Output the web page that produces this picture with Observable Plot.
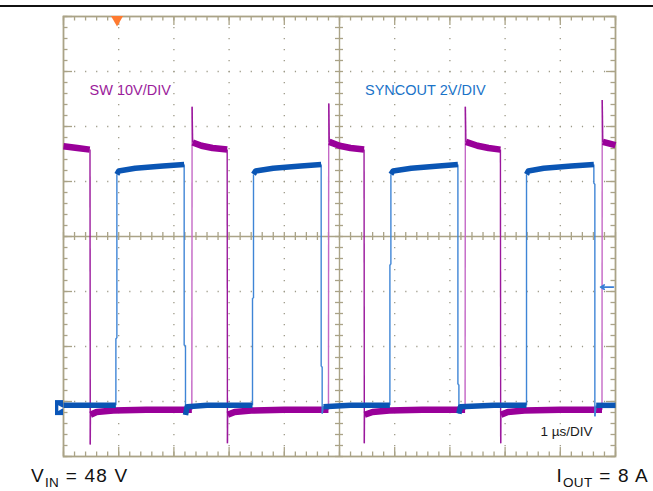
<!DOCTYPE html>
<html><head><meta charset="utf-8">
<script src="https://cdn.jsdelivr.net/npm/d3@7"></script>
<script src="https://cdn.jsdelivr.net/npm/@observablehq/plot@0.6"></script>
<style>
body{margin:0;background:#fff;font-family:"Liberation Sans",Arial,sans-serif;}
#wrap{position:relative;width:653px;height:491px;overflow:hidden;background:#fff;}
#chart{position:absolute;left:0;top:0;}
#topline{position:absolute;left:0;top:5px;width:653px;height:1.6px;background:#111;z-index:2;}
.foot{position:absolute;top:466px;font-size:19px;line-height:20px;color:#111;white-space:nowrap;letter-spacing:1.2px;}
.foot sub{font-size:13.5px;vertical-align:-5px;line-height:0;letter-spacing:0.4px;}
</style></head><body>
<div id="wrap"><div id="chart"></div><div id="topline"></div>
<div class="foot" style="left:31px">V<sub>IN</sub> = 48 V</div>
<div class="foot" style="right:4px">I<sub>OUT</sub> = 8 A</div>
</div>
<script>
// ---- data (time in µs, voltage in V) ----
const swLabel = "SW 10V/DIV";
const syncLabel = "SYNCOUT 2V/DIV";
const timeLabel = "1 µs/DIV";
const swVoltsPerDiv = 10;
const syncVoltsPerDiv = 2;
const groundDiv = -3.12;        // both channels' ground marker (divisions from centre)
const triggerTime = 0.97;       // µs
const triggerLevel = 4.4;       // V on SYNCOUT

const swTime = [0, 0.25, 0.475, 0.48, 0.485, 0.49, 0.6, 0.9, 1.5, 2.325, 2.33, 2.34, 2.5, 2.7, 2.965, 2.97, 2.975, 3.1, 3.4, 4.0, 4.80, 4.805, 4.815, 5.0, 5.2, 5.445, 5.45, 5.455, 5.6, 5.9, 6.5, 7.275, 7.28, 7.29, 7.5, 7.7, 7.915, 7.92, 7.925, 8.05, 8.35, 9.0, 9.755, 9.76, 9.77, 10];
const swVolt = [47.6, 47.3, 47.0, 47.0, -6.6, -1.2, -0.7, -0.45, -0.3, -0.3, 54.8, 48.3, 47.7, 47.3, 47.0, -6.4, -1.2, -0.7, -0.45, -0.3, -0.3, 55.4, 48.4, 47.7, 47.3, 47.0, -6.4, -1.2, -0.7, -0.45, -0.3, -0.3, 54.8, 48.4, 47.7, 47.3, 47.0, -6.4, -1.2, -0.7, -0.45, -0.3, -0.3, 56.0, 48.4, 47.8];

const syncTime = [0, 0.5, 0.949, 0.949, 0.967, 0.967, 1.0, 1.3, 1.8, 2.186, 2.186, 2.21, 2.21, 2.24, 2.6, 3.424, 3.424, 3.442, 3.442, 3.48, 3.8, 4.3, 4.668, 4.668, 4.686, 4.686, 4.71, 5.2, 5.913, 5.913, 5.931, 5.931, 5.97, 6.3, 6.8, 7.145, 7.145, 7.163, 7.163, 7.19, 7.8, 8.388, 8.388, 8.42, 8.7, 9.2, 9.608, 9.608, 9.626, 9.626, 9.65, 10];
const syncVolt = [0.1, 0.1, 0.1, 2.54, 2.54, 8.5, 8.62, 8.72, 8.8, 8.86, 2.28, 2.28, -0.25, 0.05, 0.1, 0.1, 4.0, 4.0, 8.5, 8.62, 8.72, 8.8, 8.86, 1.51, 1.51, -0.2, 0.05, 0.1, 0.1, 5.22, 5.22, 8.5, 8.62, 8.72, 8.8, 8.86, 0.86, 0.86, -0.2, 0.05, 0.1, 0.1, 8.5, 8.62, 8.72, 8.8, 8.86, 8.16, 8.16, -0.3, 0.1, 0.1];

// ---- layout ----
const W = 653, H = 491, mL = 63, mR = 38, mT = 16, mB = 35;
const pxX = (W - mL - mR) / 10, pxY = (H - mT - mB) / 8;
const gridColor = "#aaa387";

const toDiv = (v, s) => groundDiv + v / s;
const sw = swTime.map((t, i) => ({t, y: toDiv(swVolt[i], swVoltsPerDiv)}));
const sync = syncTime.map((t, i) => ({t, y: toDiv(syncVolt[i], syncVoltsPerDiv)}));
function bands(pts) { let seg = 0; return pts.map((p, i) => { if (i > 0 && Math.abs(p.t - pts[i-1].t) < 0.025) seg++; return {...p, seg}; }); }
function edges(pts) { const out = []; for (let i = 1; i < pts.length; i++) { if (Math.abs(pts[i].t - pts[i-1].t) < 0.025) out.push({t1: pts[i-1].t, y1: pts[i-1].y, t2: pts[i].t, y2: pts[i].y, rise: pts[i].y > pts[i-1].y}); } return out; }

const xMinor = d3.range(0, 50.5).map(i => i * 0.2);
const yMinor = d3.range(0, 40.5).map(i => -4 + i * 0.2);
const xMajor = d3.range(0, 11), yMajor = d3.range(-4, 5);
const xGrid = xMajor.filter(d => d > 0 && d < 10 && d !== 5);
const yGrid = yMajor.filter(d => d > -4 && d < 4 && d !== 0);
const tx = 4 / pxX, ty = 4 / pxY, exMin = 4.5, exMaj = 9;

const swEdges = edges(sw), syncEdges = edges(sync);

const chart = Plot.plot({
  width: W, height: H, marginLeft: mL, marginRight: mR, marginTop: mT, marginBottom: mB,
  x: {domain: [0, 10], axis: null},
  y: {domain: [-4, 4], axis: null},
  style: {fontFamily: "'Liberation Sans', Arial, sans-serif", background: "#fff"},
  marks: [
    // dotted grid
    Plot.ruleX(xGrid, {stroke: "#9d9a88", strokeWidth: 1.3, strokeDasharray: "1.2,9.8"}),
    Plot.ruleY(yGrid, {stroke: "#9d9a88", strokeWidth: 1.3, strokeDasharray: "1.2,9.84"}),
    // centre crosshair
    Plot.ruleX([5], {stroke: gridColor, strokeWidth: 1.4}),
    Plot.ruleY([0], {stroke: gridColor, strokeWidth: 1.4}),
    Plot.ruleY(yMinor, {x1: 5 - tx, x2: 5 + tx, stroke: gridColor, strokeWidth: 1.3}),
    Plot.ruleX(xMinor, {y1: -ty, y2: ty, stroke: gridColor, strokeWidth: 1.3}),
    // edge ticks
    Plot.ruleY(yMinor, {x1: 0, x2: exMin / pxX, stroke: gridColor, strokeWidth: 1.3}),
    Plot.ruleY(yMinor, {x1: 10 - exMin / pxX, x2: 10, stroke: gridColor, strokeWidth: 1.3}),
    Plot.ruleX(xMinor, {y1: 4 - exMin / pxY, y2: 4, stroke: gridColor, strokeWidth: 1.3}),
    Plot.ruleX(xMinor, {y1: -4, y2: -4 + exMin / pxY, stroke: gridColor, strokeWidth: 1.3}),
    Plot.ruleY(yMajor, {x1: 0, x2: exMaj / pxX, stroke: gridColor, strokeWidth: 1.3}),
    Plot.ruleY(yMajor, {x1: 10 - exMaj / pxX, x2: 10, stroke: gridColor, strokeWidth: 1.3}),
    Plot.ruleX(xMajor, {y1: 4 - exMaj / pxY, y2: 4, stroke: gridColor, strokeWidth: 1.3}),
    Plot.ruleX(xMajor, {y1: -4, y2: -4 + exMaj / pxY, stroke: gridColor, strokeWidth: 1.3}),
    Plot.frame({stroke: gridColor, strokeWidth: 1.8}),
    // SW trace
    Plot.link(swEdges.filter(d => d.rise), {x1: "t1", y1: "y1", x2: "t2", y2: "y2", stroke: "#c468c6", strokeWidth: 1.4}),
    Plot.link(swEdges.filter(d => !d.rise), {x1: "t1", y1: "y1", x2: "t2", y2: "y2", stroke: "#9a189c", strokeWidth: 1.4}),
    Plot.line(bands(sw), {x: "t", y: "y", z: "seg", stroke: "#990099", strokeWidth: 6.5, strokeLinecap: "butt", strokeLinejoin: "round"}),
    // SYNCOUT trace
    Plot.link(syncEdges, {x1: "t1", y1: "y1", x2: "t2", y2: "y2", stroke: "#3f85d6", strokeWidth: 1.4}),
    Plot.line(bands(sync), {x: "t", y: "y", z: "seg", stroke: "#0a55b4", strokeWidth: 5.5, strokeLinecap: "butt", strokeLinejoin: "round"}),
    // trigger markers
    Plot.dot([triggerTime], {x: d => d, frameAnchor: "top", symbol: "triangle", rotate: 180, r: 4.5, dy: 3, fill: "#ff7a30"}),
    Plot.arrow([triggerLevel], {x1: 10 - 2 / pxX, x2: 10 - 15 / pxX, y1: d => toDiv(d, syncVoltsPerDiv), y2: d => toDiv(d, syncVoltsPerDiv), stroke: "#3a7fd6", strokeWidth: 1.6, headLength: 6}),
    // ground marker
    Plot.rect([groundDiv], {x1: -8 / pxX, x2: 0, y1: d => d - 7.5 / pxY, y2: d => d + 7.5 / pxY, fill: "#0b56b8"}),
    Plot.dot([groundDiv], {x: 0, y: d => d, dx: -3.5, symbol: "triangle", rotate: 90, r: 2.2, fill: "#fff"}),
    // labels
    Plot.text([swLabel], {text: d => d, frameAnchor: "top-left", dx: 26, dy: 78.7, lineAnchor: "bottom", textAnchor: "start", fill: "#9b1b9b", fontSize: 14.5}),
    Plot.text([syncLabel], {text: d => d, frameAnchor: "top-left", dx: 301.5, dy: 78.7, lineAnchor: "bottom", textAnchor: "start", fill: "#1a73c8", fontSize: 14.5}),
    Plot.text([timeLabel], {text: d => d, frameAnchor: "top-left", dx: 477, dy: 419, lineAnchor: "bottom", textAnchor: "start", fill: "#1a1a1a", fontSize: 13.5})
  ]
});
document.getElementById("chart").appendChild(chart);
</script>
</body></html>
